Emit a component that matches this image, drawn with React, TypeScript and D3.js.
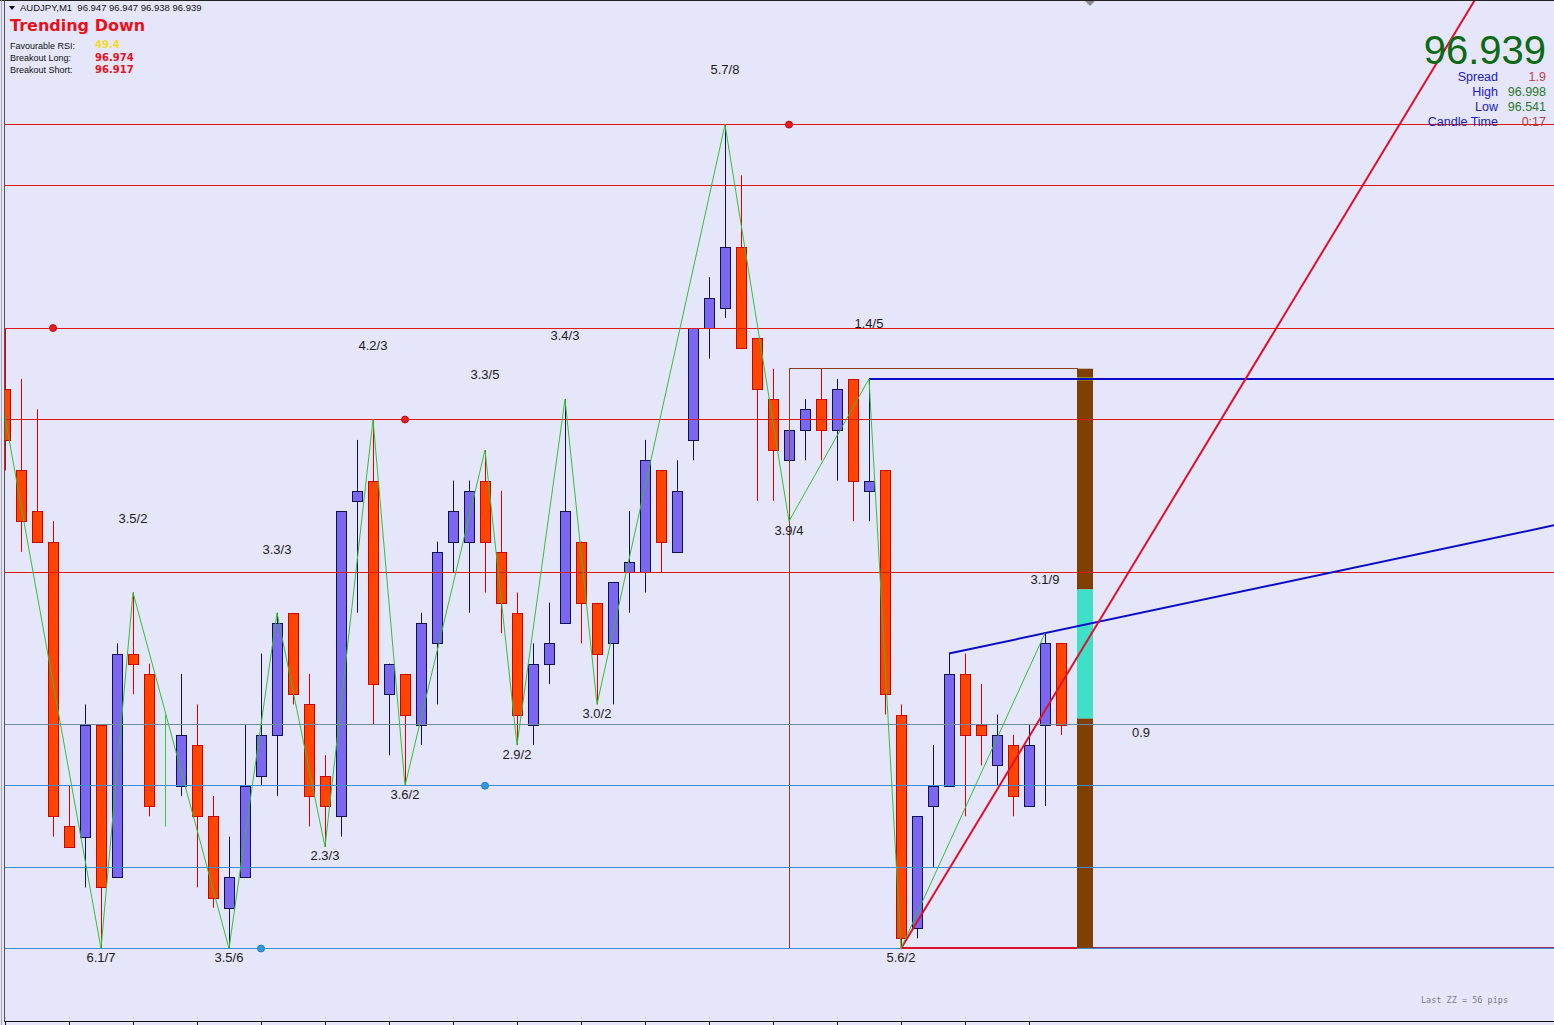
import React from 'react';
import * as d3 from 'd3';

const W = 1554;
const H = 1025;

// ---------- data ----------
const symbol = 'AUDJPY,M1';
const opens = [96.972, 96.964, 96.960, 96.957, 96.929, 96.928, 96.939, 96.924, 96.946, 96.944,
  96.938, 96.933, 96.937, 96.930, 96.921, 96.924, 96.934, 96.938, 96.950, 96.941,
  96.934, 96.930, 96.961, 96.963, 96.942, 96.944, 96.939, 96.947, 96.957, 96.957,
  96.963, 96.956, 96.950, 96.939, 96.945, 96.949, 96.957, 96.951, 96.947, 96.954,
  96.954, 96.964, 96.956, 96.967, 96.978, 96.980, 96.986, 96.977, 96.971, 96.965,
  96.968, 96.971, 96.968, 96.973, 96.962, 96.964, 96.940, 96.919, 96.931, 96.933,
  96.944, 96.939, 96.935, 96.937, 96.931, 96.939, 96.947];
const highs = [96.978, 96.973, 96.970, 96.959, 96.933, 96.941, 96.939, 96.947, 96.952, 96.945,
  96.940, 96.944, 96.941, 96.932, 96.928, 96.939, 96.946, 96.950, 96.950, 96.944,
  96.936, 96.960, 96.967, 96.969, 96.945, 96.944, 96.950, 96.957, 96.963, 96.963,
  96.966, 96.962, 96.952, 96.947, 96.951, 96.971, 96.957, 96.951, 96.953, 96.960,
  96.967, 96.964, 96.965, 96.978, 96.983, 96.998, 96.993, 96.977, 96.974, 96.968,
  96.971, 96.974, 96.973, 96.973, 96.973, 96.964, 96.941, 96.930, 96.937, 96.946,
  96.946, 96.943, 96.940, 96.938, 96.939, 96.948, 96.947];
const lows = [96.964, 96.956, 96.957, 96.928, 96.927, 96.923, 96.917, 96.924, 96.942, 96.930,
  96.929, 96.932, 96.923, 96.921, 96.917, 96.924, 96.933, 96.932, 96.941, 96.929,
  96.927, 96.928, 96.950, 96.939, 96.936, 96.933, 96.937, 96.941, 96.954, 96.950,
  96.952, 96.948, 96.937, 96.937, 96.943, 96.949, 96.947, 96.941, 96.941, 96.950,
  96.952, 96.954, 96.956, 96.965, 96.975, 96.979, 96.976, 96.961, 96.961, 96.959,
  96.965, 96.965, 96.963, 96.959, 96.959, 96.940, 96.917, 96.918, 96.925, 96.933,
  96.930, 96.935, 96.933, 96.930, 96.931, 96.931, 96.938];
const closes = [96.967, 96.959, 96.957, 96.930, 96.927, 96.939, 96.923, 96.946, 96.945, 96.931,
  96.938, 96.938, 96.930, 96.922, 96.924, 96.933, 96.938, 96.949, 96.942, 96.932,
  96.931, 96.960, 96.962, 96.943, 96.945, 96.940, 96.949, 96.956, 96.960, 96.962,
  96.957, 96.951, 96.940, 96.945, 96.947, 96.960, 96.951, 96.946, 96.953, 96.955,
  96.965, 96.957, 96.962, 96.978, 96.981, 96.986, 96.976, 96.972, 96.966, 96.968,
  96.970, 96.968, 96.972, 96.963, 96.963, 96.942, 96.918, 96.930, 96.933, 96.944,
  96.938, 96.938, 96.938, 96.932, 96.937, 96.947, 96.939];

// zigzag pivots (bar index, price)
const zzIndex = [-1, 6, 8, 14, 17, 20, 23, 25, 30, 32, 35, 37, 45, 49, 54, 56, 65];
const zzPrice = [96.978, 96.917, 96.952, 96.917, 96.950, 96.927, 96.969, 96.933, 96.966, 96.937,
  96.971, 96.941, 96.998, 96.959, 96.973, 96.917, 96.948];
const zzHighLabelLift = [0.0073, 0.0062, 0.0073, 0.0074, 0.0063, 0.0054, 0.0054, 0.0053];

const redLevels = [96.998, 96.992, 96.978, 96.969, 96.954];
const blueLevels = [96.933, 96.925, 96.917];
const bidPrice = 96.939;
const redDots = [[3, 96.978], [25, 96.969], [49, 96.998]];
const blueDots = [[16, 96.917], [30, 96.933]];

const breakoutLong = 96.974;
const breakoutShort = 96.917;
const boxStart = 49;
const boxEnd = 67;
const barZones = [
  { from: 96.974, to: 96.9523, color: '#7f3f00' },
  { from: 96.9523, to: 96.9396, color: '#40e0c8' },
  { from: 96.9396, to: 96.917, color: '#7f3f00' },
];
const barMark = 96.973;
const resistLevel = [54, 96.973];
const channelTop = [[59, 96.946], [65, 96.948]];
const supportRay = [[56, 96.917], [66, 96.943]];

const rsiValue = '49.4';
const spread = '1.9';
const dayHigh = '96.998';
const dayLow = '96.541';
const candleTime = '0:17';
const rangeValue = '0.9';

const AR = 'Liberation Sans, Arial, sans-serif';
const VB = 'DejaVu Sans, Verdana, sans-serif';

export default function App() {
  const x = d3.scaleLinear().domain([0, 1]).range([5, 21]);
  const y = d3.scaleLinear().domain([96.917, 96.998]).range([948.5, 124.6]);
  const px = (v: number) => Math.floor(v) + 0.5;

  const n = opens.length;
  const candles = d3.range(n).map((i) => ({
    i, o: opens[i], h: highs[i], l: lows[i], c: closes[i],
  }));

  const zzLine = d3.line<number>()
    .x((_, k) => x(zzIndex[k]))
    .y((d) => y(d))(zzPrice) as string;

  const labels: { tx: number; ty: number; text: string }[] = [];
  let hi = 0;
  for (let k = 1; k < zzIndex.length; k++) {
    const diff = Math.abs(zzPrice[k] - zzPrice[k - 1]) * 100;
    const bars = zzIndex[k] - zzIndex[k - 1];
    const text = `${diff.toFixed(1)}/${bars}`;
    const isHigh = zzPrice[k] > zzPrice[k - 1];
    if (isHigh) {
      labels.push({ tx: x(zzIndex[k]), ty: y(zzPrice[k] + zzHighLabelLift[hi]) + 4.5, text });
      hi++;
    } else {
      labels.push({ tx: x(zzIndex[k]), ty: y(zzPrice[k]) + 13.5, text });
    }
  }
  const lastSwing = Math.round(Math.abs(zzPrice[zzPrice.length - 2] - zzPrice[zzPrice.length - 3]) * 1000);

  const chan = (() => {
    const x1 = x(channelTop[0][0]), y1 = y(channelTop[0][1]);
    const x2 = x(channelTop[1][0]), y2 = y(channelTop[1][1]);
    const s = (y2 - y1) / (x2 - x1);
    return { x1, y1, x2: W, y2: y1 + s * (W - x1) };
  })();
  const sup = (() => {
    const x1 = x(supportRay[0][0]), y1 = y(supportRay[0][1]);
    const x2 = x(supportRay[1][0]), y2 = y(supportRay[1][1]);
    const s = (y2 - y1) / (x2 - x1);
    const xe = x1 + (0 - y1) / s;
    return { x1, y1, x2: xe, y2: 0 };
  })();

  const ticks = d3.range(0, n, 4);

  return (
    <svg width={W} height={H} style={{ position: 'fixed', left: 0, top: 0, display: 'block' }}
      xmlns="http://www.w3.org/2000/svg">
      <defs>
        <clipPath id="plot"><rect x={5} y={1} width={W - 5} height={1019} /></clipPath>
      </defs>
      <rect x={0} y={0} width={W} height={H} fill="#e6e6fa" />
      <line x1={0} y1={0.5} x2={W} y2={0.5} stroke="#222" />
      <line x1={1.5} y1={0} x2={1.5} y2={H} stroke="#a8a8b0" />
      <line x1={4.5} y1={0} x2={4.5} y2={1022} stroke="#555" />
      <polygon points="1085,1 1095,1 1090,6" fill="#8a8a8a" />

      <g clipPath="url(#plot)">
        {candles.map((d) => {
          const cx = px(x(d.i));
          const bull = d.c > d.o;
          const doji = d.c === d.o;
          if (doji) {
            return <line key={d.i} x1={cx} x2={cx} y1={y(d.h)} y2={y(d.l)} stroke="#32cd32" />;
          }
          const top = y(Math.max(d.o, d.c));
          const bot = y(Math.min(d.o, d.c));
          const wick = bull ? '#10105a' : '#e00000';
          return (
            <g key={d.i}>
              <line x1={cx} x2={cx} y1={y(d.h)} y2={y(d.l)} stroke={wick} />
              <rect x={cx - 5} y={Math.round(top) + 0.5} width={10} height={Math.max(1, Math.round(bot) - Math.round(top))}
                fill={bull ? '#7b68ee' : '#ff4500'} stroke={bull ? '#10105a' : '#d00000'} />
            </g>
          );
        })}

        <rect x={px(x(boxStart))} y={px(y(breakoutLong))} width={x(boxEnd) - x(boxStart)}
          height={y(breakoutShort) - y(breakoutLong)} fill="none" stroke="#8b3f1b" shapeRendering="crispEdges" />
        {barZones.map((z, k) => (
          <rect key={k} x={x(boxEnd)} y={y(z.from)} width={x(boxEnd + 1) - x(boxEnd)} height={y(z.to) - y(z.from)} fill={z.color} />
        ))}
        <rect x={x(boxEnd)} y={y(barMark) - 1.5} width={x(boxEnd + 1) - x(boxEnd)} height={3} fill="#9acd32" />

        {redLevels.map((v, k) => (
          <line key={'r' + k} x1={5} x2={W} y1={px(y(v))} y2={px(y(v))} stroke="#e01818" shapeRendering="crispEdges" />
        ))}
        {blueLevels.map((v, k) => (
          <line key={'b' + k} x1={5} x2={W} y1={px(y(v))} y2={px(y(v))} stroke="#3b8ed6" shapeRendering="crispEdges" />
        ))}
        <line x1={5} x2={W} y1={px(y(bidPrice))} y2={px(y(bidPrice))} stroke="#6f8aa3" shapeRendering="crispEdges" />

        <line x1={x(supportRay[0][0])} x2={x(boxEnd)} y1={y(breakoutShort) - 0.5} y2={y(breakoutShort) - 0.5} stroke="#e0102a" strokeWidth={2} />
        <line x1={x(boxEnd + 1)} x2={W} y1={px(y(breakoutShort)) - 1} y2={px(y(breakoutShort)) - 1} stroke="#a02a55" shapeRendering="crispEdges" />

        <line x1={x(resistLevel[0])} x2={W} y1={y(resistLevel[1])} y2={y(resistLevel[1])} stroke="#0a0ac8" strokeWidth={2} />
        <line x1={chan.x1} y1={chan.y1} x2={chan.x2} y2={chan.y2} stroke="#0a0ac8" strokeWidth={2} />
        <line x1={sup.x1} y1={sup.y1} x2={sup.x2} y2={sup.y2} stroke="#e0102a" strokeWidth={2} />

        <path d={zzLine} fill="none" stroke="#32c032" strokeWidth={1} />

        {redDots.map((d, k) => (
          <circle key={'rd' + k} cx={x(d[0])} cy={y(d[1])} r={3.5} fill="#e81c1c" stroke="#b00000" strokeWidth={0.8} />
        ))}
        {blueDots.map((d, k) => (
          <circle key={'bd' + k} cx={x(d[0])} cy={y(d[1])} r={3.5} fill="#3399e0" stroke="#1c6fb8" strokeWidth={0.8} />
        ))}

        {labels.map((l, k) => (
          <text key={'l' + k} x={l.tx} y={l.ty} textAnchor="middle" fontFamily={AR} fontSize={13} fill="#1a1a1a">{l.text}</text>
        ))}
        <text x={1141} y={y(bidPrice) + 12.5} textAnchor="middle" fontFamily={AR} fontSize={13} fill="#1a1a1a">{rangeValue}</text>
      </g>

      <line x1={5} x2={W} y1={1021.5} y2={1021.5} stroke="#111" />
      {ticks.map((i) => (
        <g key={'t' + i}>
          <line x1={px(x(i))} x2={px(x(i))} y1={1021} y2={H} stroke="#111" />
          <line x1={px(x(i))} x2={px(x(i))} y1={1017} y2={1019} stroke="#c4c4d4" />
        </g>
      ))}

      <polygon points="9,6 15,6 12,10" fill="#111" />
      <text x={20} y={11} fontFamily={AR} fontSize={9.5} fill="#111" style={{ whiteSpace: 'pre' }}>
        {`${symbol}  ${opens[n - 1].toFixed(3)} ${highs[n - 1].toFixed(3)} ${lows[n - 1].toFixed(3)} ${closes[n - 1].toFixed(3)}`}
      </text>
      <text x={10} y={31} fontFamily={VB} fontWeight="bold" fontSize={16} fill="#e8101a">Trending Down</text>
      <text x={10} y={48.5} fontFamily={AR} fontSize={9} fill="#111">Favourable RSI:</text>
      <text x={10} y={61} fontFamily={AR} fontSize={9} fill="#111">Breakout Long:</text>
      <text x={10} y={73} fontFamily={AR} fontSize={9} fill="#111">Breakout Short:</text>
      <text x={95} y={48} fontFamily={VB} fontWeight="bold" fontSize={10} fill="#f2dc1e">{rsiValue}</text>
      <text x={95} y={60.5} fontFamily={VB} fontWeight="bold" fontSize={10} fill="#e8101a">{breakoutLong.toFixed(3)}</text>
      <text x={95} y={72.5} fontFamily={VB} fontWeight="bold" fontSize={10} fill="#e8101a">{breakoutShort.toFixed(3)}</text>

      <text x={1546} y={64} textAnchor="end" fontFamily={AR} fontSize={40} fill="#0b6a12">{closes[n - 1].toFixed(3)}</text>
      {[
        ['Spread', spread, '#c04050'],
        ['High', dayHigh, '#2a7a2a'],
        ['Low', dayLow, '#2a7a2a'],
        ['Candle Time', candleTime, '#b04040'],
      ].map((r, k) => (
        <g key={'ri' + k}>
          <text x={1498} y={80.5 + 15 * k} textAnchor="end" fontFamily={AR} fontSize={12.5} fill="#1a1ac0">{r[0]}</text>
          <text x={1546} y={80.5 + 15 * k} textAnchor="end" fontFamily={AR} fontSize={12.5} fill={r[2]}>{r[1]}</text>
        </g>
      ))}

      <text x={1421} y={1003} fontFamily="DejaVu Sans Mono, monospace" fontSize={8.5} fill="#7c7c8c">
        {`Last ZZ = ${lastSwing} pips`}
      </text>
    </svg>
  );
}
